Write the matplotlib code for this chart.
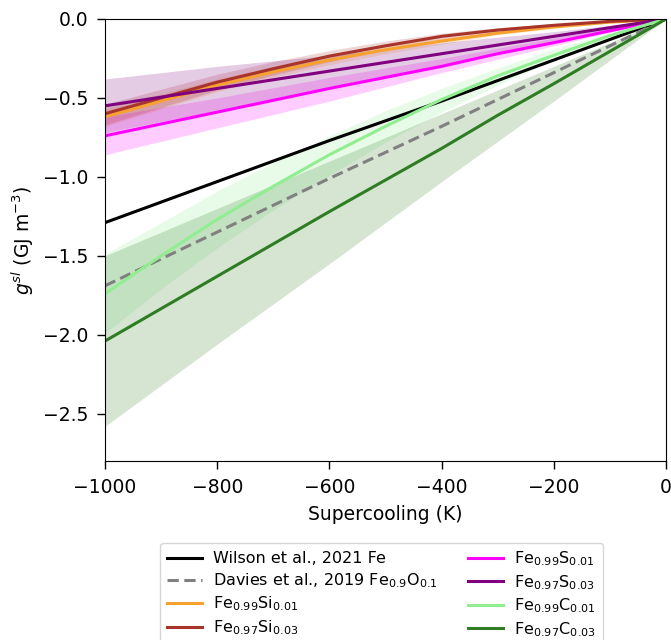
import matplotlib
matplotlib.use("Agg")
import matplotlib.pyplot as plt
import numpy as np

# Supercooling grid (K)
x_pts = [-1000, -900, -800, -700, -600, -500, -400, -300, -200, -100, 0]

# Line values g^sl (GJ m^-3)
wilson_fe = [-1.29, -1.16, -1.03, -0.90, -0.77, -0.645, -0.52, -0.39, -0.26, -0.13, 0.0]
davies_feo = [-1.69, -1.52, -1.35, -1.18, -1.01, -0.845, -0.68, -0.51, -0.34, -0.17, 0.0]
fesi_001 = [-0.62, -0.52, -0.42, -0.335, -0.26, -0.195, -0.14, -0.09, -0.05, -0.02, 0.0]
fesi_003 = [-0.60, -0.50, -0.40, -0.315, -0.235, -0.17, -0.11, -0.07, -0.04, -0.015, 0.0]
fes_001 = [-0.74, -0.665, -0.59, -0.515, -0.44, -0.37, -0.30, -0.22, -0.15, -0.075, 0.0]
fes_003 = [-0.55, -0.495, -0.44, -0.385, -0.33, -0.275, -0.22, -0.165, -0.11, -0.055, 0.0]
fec_001 = [-1.74, -1.50, -1.27, -1.06, -0.86, -0.68, -0.51, -0.36, -0.23, -0.105, 0.0]
fec_003 = [-2.04, -1.835, -1.63, -1.425, -1.22, -1.02, -0.82, -0.61, -0.41, -0.205, 0.0]

# Uncertainty bands
x_band = [-1000, -900, -800, -700, -600, -500, -400, -300, -200, -100, 0]
fesi_001_lo = [-0.68, -0.57, -0.46, -0.37, -0.29, -0.22, -0.16, -0.10, -0.06, -0.025, 0.0]
fesi_001_hi = [-0.57, -0.475, -0.38, -0.30, -0.23, -0.17, -0.12, -0.08, -0.04, -0.015, 0.0]
fesi_003_lo = [-0.67, -0.56, -0.45, -0.355, -0.27, -0.195, -0.13, -0.085, -0.05, -0.02, 0.0]
fesi_003_hi = [-0.54, -0.445, -0.35, -0.27, -0.20, -0.14, -0.09, -0.055, -0.03, -0.01, 0.0]
fes_001_lo = [-0.86, -0.775, -0.69, -0.605, -0.52, -0.43, -0.34, -0.255, -0.17, -0.085, 0.0]
fes_001_hi = [-0.62, -0.56, -0.50, -0.435, -0.37, -0.31, -0.25, -0.185, -0.12, -0.06, 0.0]
fes_003_lo = [-0.72, -0.65, -0.58, -0.505, -0.43, -0.36, -0.29, -0.215, -0.14, -0.07, 0.0]
fes_003_hi = [-0.38, -0.34, -0.30, -0.265, -0.23, -0.19, -0.15, -0.115, -0.08, -0.04, 0.0]
fec_001_lo = [-1.99, -1.71, -1.45, -1.21, -0.99, -0.78, -0.59, -0.42, -0.26, -0.12, 0.0]
fec_001_hi = [-1.49, -1.29, -1.09, -0.91, -0.74, -0.58, -0.44, -0.31, -0.19, -0.09, 0.0]
fec_003_lo = [-2.58, -2.32, -2.06, -1.805, -1.55, -1.29, -1.03, -0.775, -0.52, -0.26, 0.0]
fec_003_hi = [-1.50, -1.35, -1.20, -1.05, -0.90, -0.75, -0.60, -0.45, -0.30, -0.15, 0.0]

labels = ["Wilson et al., 2021 Fe",
          r"Davies et al., 2019 Fe$_{0.9}$O$_{0.1}$",
          r"Fe$_{0.99}$Si$_{0.01}$",
          r"Fe$_{0.97}$Si$_{0.03}$",
          r"Fe$_{0.99}$S$_{0.01}$",
          r"Fe$_{0.97}$S$_{0.03}$",
          r"Fe$_{0.99}$C$_{0.01}$",
          r"Fe$_{0.97}$C$_{0.03}$"]

c_black = "black"
c_grey = "grey"
c_orange = "#f7a12e"
c_red = "#a8332a"
c_mag = "#ff00ff"
c_pur = "#800080"
c_lg = "#90ee90"
c_dg = "#2e7d22"

fig = plt.figure(figsize=(6.71, 6.40), dpi=100)
ax = fig.add_axes([105/671, (640-461)/640, 561/671, 442/640])

band_alpha = 0.2
ax.fill_between(x_band, fesi_001_lo, fesi_001_hi, color=c_orange, alpha=band_alpha, lw=0)
ax.fill_between(x_band, fesi_003_lo, fesi_003_hi, color=c_red, alpha=band_alpha, lw=0)
ax.fill_between(x_band, fes_001_lo, fes_001_hi, color=c_mag, alpha=band_alpha, lw=0)
ax.fill_between(x_band, fes_003_lo, fes_003_hi, color=c_pur, alpha=band_alpha, lw=0)
ax.fill_between(x_band, fec_001_lo, fec_001_hi, color=c_lg, alpha=0.2, lw=0)
ax.fill_between(x_band, fec_003_lo, fec_003_hi, color=c_dg, alpha=band_alpha, lw=0)

lw = 2.2
ax.plot(x_pts, wilson_fe, color=c_black, lw=lw, label=labels[0])
ax.plot(x_pts, davies_feo, color=c_grey, lw=lw, ls=(0, (3.7, 1.8)), label=labels[1])
ax.plot(x_pts, fesi_001, color=c_orange, lw=lw, label=labels[2])
ax.plot(x_pts, fesi_003, color=c_red, lw=lw, label=labels[3])
ax.plot(x_pts, fes_001, color=c_mag, lw=lw, label=labels[4])
ax.plot(x_pts, fes_003, color=c_pur, lw=lw, label=labels[5])
ax.plot(x_pts, fec_001, color=c_lg, lw=lw, label=labels[6])
ax.plot(x_pts, fec_003, color=c_dg, lw=lw, label=labels[7])

ax.set_xlim(-1000, 0)
ax.set_ylim(-2.8, 0)
ax.set_xticks([-1000, -800, -600, -400, -200, 0])
ax.set_yticks([0.0, -0.5, -1.0, -1.5, -2.0, -2.5])
ax.tick_params(labelsize=13.5, length=6, width=1, pad=6)
ax.set_xlabel("Supercooling (K)", fontsize=13.5, labelpad=6)
ax.set_ylabel(r"$g^{sl}$ (GJ m$^{-3}$)", fontsize=13.5, labelpad=5)

ax.legend(loc="upper center", bbox_to_anchor=(0.493, -0.1855), ncol=2,
          fontsize=11.5, frameon=True, handlelength=2.2, handletextpad=0.7,
          columnspacing=1.9, labelspacing=0.3, borderaxespad=0)

fig.savefig("out.png", dpi=100)
